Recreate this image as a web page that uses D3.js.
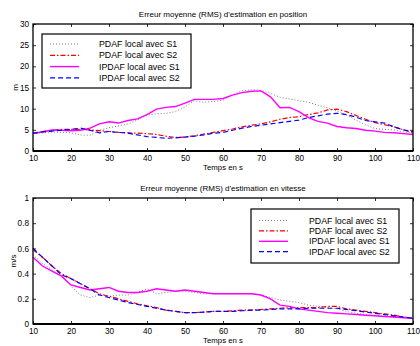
<!DOCTYPE html>
<html>
<head>
<meta charset="utf-8">
<script src="https://cdn.jsdelivr.net/npm/d3@7"></script>
<style>
	body { margin: 0; background: white; }
	svg { display: block; font-family: 'Liberation Sans', Arial, sans-serif; }
</style>
</head>
<body>
<svg id="fig" width="420" height="346"></svg>
<script>
// time axis (s)
var times = d3.range(10, 110.01, 2.5);

// position error (m)
var posPdafS1 = [4.2, 4.3, 4.5, 4.4, 4.3, 3.8, 3.7, 4.9, 5.5, 5.9, 6.4, 7.3, 8.5, 8.8, 8.9, 9.3, 10.4, 11.9, 11.5, 11.7, 12.0,
	13.3, 14.2, 14.5, 14.3, 13.6, 12.7, 12.3, 11.9, 11.5, 10.8, 10.2, 9.4, 8.5, 7.3, 6.2, 5.3, 5.1, 5.0, 4.5, 4.2];
var posPdafS2 = [4.2, 4.6, 4.9, 5.1, 5.1, 5.1, 5.0, 4.8, 4.6, 4.4, 4.3, 4.2, 4.1, 3.9, 3.5, 3.2, 3.3, 3.6, 4.0, 4.4, 4.8,
	5.2, 5.7, 6.1, 6.4, 6.9, 7.5, 7.9, 8.1, 8.6, 9.0, 9.7, 9.9, 9.3, 8.4, 7.5, 6.7, 6.2, 5.7, 5.0, 4.4];
var posIpdafS1 = [4.2, 4.5, 5.0, 4.9, 4.8, 4.9, 5.4, 6.4, 6.9, 6.6, 7.2, 7.6, 8.6, 9.9, 10.3, 10.5, 11.3, 12.2, 12.2, 12.2, 12.4,
	13.2, 13.8, 14.1, 14.2, 12.8, 10.2, 10.3, 9.3, 7.9, 7.0, 6.6, 5.8, 5.5, 5.3, 4.9, 4.7, 4.4, 4.3, 4.1, 3.9];
var posIpdafS2 = [4.2, 4.5, 4.7, 4.9, 5.1, 5.4, 4.9, 4.3, 4.6, 4.4, 4.2, 3.8, 3.4, 3.2, 3.0, 3.1, 3.3, 3.5, 3.8, 4.2, 4.4,
	4.9, 5.4, 5.8, 6.1, 6.4, 6.7, 7.0, 7.3, 7.9, 8.3, 8.7, 8.9, 8.6, 8.0, 7.2, 6.9, 6.6, 5.7, 5.0, 4.5];

// velocity error (m/s)
var velPdafS1 = [0.55, 0.48, 0.43, 0.39, 0.30, 0.23, 0.21, 0.23, 0.22, 0.23, 0.23, 0.25, 0.28, 0.24, 0.25, 0.26, 0.26, 0.25, 0.24, 0.24, 0.24,
	0.24, 0.24, 0.24, 0.23, 0.21, 0.19, 0.18, 0.17, 0.15, 0.14, 0.13, 0.12, 0.10, 0.085, 0.075, 0.065, 0.06, 0.055, 0.05, 0.045];
var velPdafS2 = [0.59, 0.53, 0.46, 0.40, 0.36, 0.32, 0.28, 0.24, 0.22, 0.20, 0.18, 0.16, 0.145, 0.13, 0.11, 0.10, 0.09, 0.09, 0.095, 0.10, 0.10,
	0.105, 0.11, 0.11, 0.115, 0.12, 0.125, 0.13, 0.13, 0.13, 0.13, 0.14, 0.14, 0.12, 0.11, 0.10, 0.09, 0.08, 0.07, 0.055, 0.045];
var velIpdafS1 = [0.53, 0.46, 0.42, 0.38, 0.31, 0.29, 0.27, 0.28, 0.29, 0.26, 0.25, 0.25, 0.26, 0.28, 0.27, 0.26, 0.27, 0.26, 0.25, 0.24, 0.24,
	0.24, 0.24, 0.24, 0.23, 0.20, 0.15, 0.14, 0.12, 0.11, 0.10, 0.09, 0.085, 0.08, 0.075, 0.07, 0.065, 0.06, 0.055, 0.05, 0.045];
var velIpdafS2 = [0.60, 0.53, 0.46, 0.39, 0.36, 0.32, 0.28, 0.23, 0.21, 0.19, 0.17, 0.155, 0.14, 0.125, 0.11, 0.10, 0.09, 0.09, 0.095, 0.10, 0.10,
	0.10, 0.105, 0.11, 0.11, 0.115, 0.12, 0.12, 0.12, 0.125, 0.125, 0.125, 0.125, 0.115, 0.105, 0.095, 0.085, 0.075, 0.065, 0.055, 0.045];

var seriesNames = ['PDAF local avec S1', 'PDAF local avec S2', 'IPDAF local avec S1', 'IPDAF local avec S2'];
var xTicks = [10, 20, 30, 40, 50, 60, 70, 80, 90, 100, 110];
var posTicks = [0, 5, 10, 15, 20, 25, 30];
var velTicks = [0, 0.2, 0.4, 0.6, 0.8, 1];

// line styles, same order as seriesNames
var styles = [
	{ color: '#7f7f7f', width: 1, dash: '1,2' },
	{ color: '#ff0000', width: 1.2, dash: '5,2,1.5,2' },
	{ color: '#ff00ff', width: 1.4, dash: null },
	{ color: '#0000ff', width: 1.2, dash: '5,3' }
];

var svg = d3.select('#fig');

function drawPanel(cfg) {
	let x = d3.scaleLinear().domain([10, 110]).range([cfg.left, cfg.right]);
	let y = d3.scaleLinear().domain(cfg.yDomain).range([cfg.bottom, cfg.top]);
	let g = svg.append('g');

	// inward ticks on all four sides
	g.append('g').attr('transform', 'translate(0,' + cfg.bottom + ')')
		.call(d3.axisBottom(x).tickValues(xTicks).tickSizeInner(-3).tickSizeOuter(0).tickPadding(4))
		.call(a => a.select('.domain').remove());
	g.append('g').attr('transform', 'translate(0,' + cfg.top + ')')
		.call(d3.axisTop(x).tickValues(xTicks).tickSizeInner(-3).tickSizeOuter(0).tickFormat(''))
		.call(a => a.select('.domain').remove());
	g.append('g').attr('transform', 'translate(' + cfg.left + ',0)')
		.call(d3.axisLeft(y).tickValues(cfg.yTicks).tickSizeInner(-3).tickSizeOuter(0).tickPadding(4).tickFormat(d3.format('')))
		.call(a => a.select('.domain').remove());
	g.append('g').attr('transform', 'translate(' + cfg.right + ',0)')
		.call(d3.axisRight(y).tickValues(cfg.yTicks).tickSizeInner(-3).tickSizeOuter(0).tickFormat(''))
		.call(a => a.select('.domain').remove());
	g.selectAll('.tick line').attr('stroke', 'black').attr('stroke-width', 0.8);
	g.selectAll('.tick text').style('font-size', '8.2px').attr('fill', 'black');

	// curves
	let line = d3.line().x((d, i) => x(times[i])).y(d => y(d));
	g.selectAll('path.curve').data(cfg.series).join('path')
		.attr('class', 'curve')
		.attr('d', d => line(d))
		.attr('fill', 'none')
		.attr('stroke', (d, i) => styles[i].color)
		.attr('stroke-width', (d, i) => styles[i].width)
		.attr('stroke-dasharray', (d, i) => styles[i].dash);

	// frame
	g.append('rect')
		.attr('x', cfg.left).attr('y', cfg.top)
		.attr('width', cfg.right - cfg.left).attr('height', cfg.bottom - cfg.top)
		.attr('fill', 'none').attr('stroke', 'black').attr('stroke-width', 1.3);
	g.append('line')
		.attr('x1', cfg.left).attr('x2', cfg.right)
		.attr('y1', cfg.bottom).attr('y2', cfg.bottom)
		.attr('stroke', 'black').attr('stroke-width', 2);

	// labels
	g.append('text')
		.attr('x', (cfg.left + cfg.right) / 2).attr('y', cfg.top - 7)
		.attr('text-anchor', 'middle').style('font-size', '8px')
		.text(cfg.title);
	g.append('text')
		.attr('x', (cfg.left + cfg.right) / 2).attr('y', cfg.bottom + 19)
		.attr('text-anchor', 'middle').style('font-size', '7.8px')
		.text('Temps en s');
	g.append('text')
		.attr('transform', 'translate(' + cfg.ylabX + ',' + (cfg.top + cfg.bottom) / 2 + ') rotate(-90)')
		.attr('text-anchor', 'middle').style('font-size', '8px')
		.text(cfg.ylabel);

	// legend
	let lg = cfg.legend;
	g.append('rect')
		.attr('x', lg.x).attr('y', lg.y).attr('width', lg.w).attr('height', lg.h)
		.attr('fill', 'white').attr('stroke', 'black').attr('stroke-width', 1.2);
	let items = g.selectAll('g.item').data(seriesNames).join('g')
		.attr('class', 'item')
		.attr('transform', (d, i) => 'translate(' + lg.x + ',' + (lg.y + lg.first + i * lg.step) + ')');
	items.append('line')
		.attr('x1', 8).attr('x2', 37)
		.attr('stroke', (d, i) => styles[i].color)
		.attr('stroke-width', (d, i) => styles[i].width)
		.attr('stroke-dasharray', (d, i) => styles[i].dash);
	items.append('text')
		.attr('x', lg.textX).attr('dy', '0.35em')
		.style('font-size', '8.8px')
		.text(d => d);
}

drawPanel({
	left: 33, right: 413, top: 24, bottom: 151,
	yDomain: [0, 30], yTicks: posTicks, ylabel: 'm', ylabX: 18,
	title: 'Erreur moyenne (RMS) d\'estimation en position',
	series: [posPdafS1, posPdafS2, posIpdafS1, posIpdafS2],
	legend: { x: 42, y: 34, w: 149, h: 54, first: 10, step: 11.3, textX: 57 }
});
drawPanel({
	left: 33, right: 413, top: 198, bottom: 324,
	yDomain: [0, 1], yTicks: velTicks, ylabel: 'm/s', ylabX: 15.5,
	title: 'Erreur moyenne (RMS) d\'estimation en vitesse',
	series: [velPdafS1, velPdafS2, velIpdafS1, velIpdafS2],
	legend: { x: 251, y: 209, w: 148, h: 54, first: 11.5, step: 10.4, textX: 58 }
});
</script>
</body>
</html>
